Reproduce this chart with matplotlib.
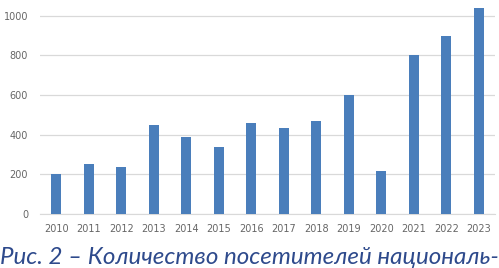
import matplotlib.pyplot as plt

years = ['2010', '2011', '2012', '2013', '2014', '2015', '2016',
         '2017', '2018', '2019', '2020', '2021', '2022', '2023']
visitors = [200, 250, 235, 450, 390, 337, 460, 435, 470, 600, 215, 800, 900, 1040]
yticks = [0, 200, 400, 600, 800, 1000]

caption = 'Рис. 2 – Количество посетителей националь-'

fig = plt.figure(figsize=(4.99, 2.68), dpi=100)
ax = fig.add_axes([40 / 499, 1 - 214 / 268, 455 / 499, 214 / 268])

x = range(len(years))
ax.bar(x, visitors, width=0.31, color='#4a7ebb', zorder=3)

ax.set_xlim(-0.5, 13.5)
ax.set_ylim(0, 1080)
ax.set_yticks(yticks)
ax.set_xticks(list(x))
ax.set_xticklabels(years)
ax.tick_params(axis='both', length=0, labelsize=7, colors='#666666')
ax.tick_params(axis='x', pad=7)
ax.tick_params(axis='y', pad=8.5)
ax.grid(axis='y', color='#d9d9d9', linewidth=0.9, zorder=0)

for s in ['top', 'right', 'left']:
    ax.spines[s].set_visible(False)
ax.spines['bottom'].set_color('#d9d9d9')

fig.text(0.0, 4 / 268, caption, fontsize=17.4, style='italic',
         family='Lato', color='#2e4a8c', ha='left', va='baseline')

plt.savefig('out.png', dpi=100)
